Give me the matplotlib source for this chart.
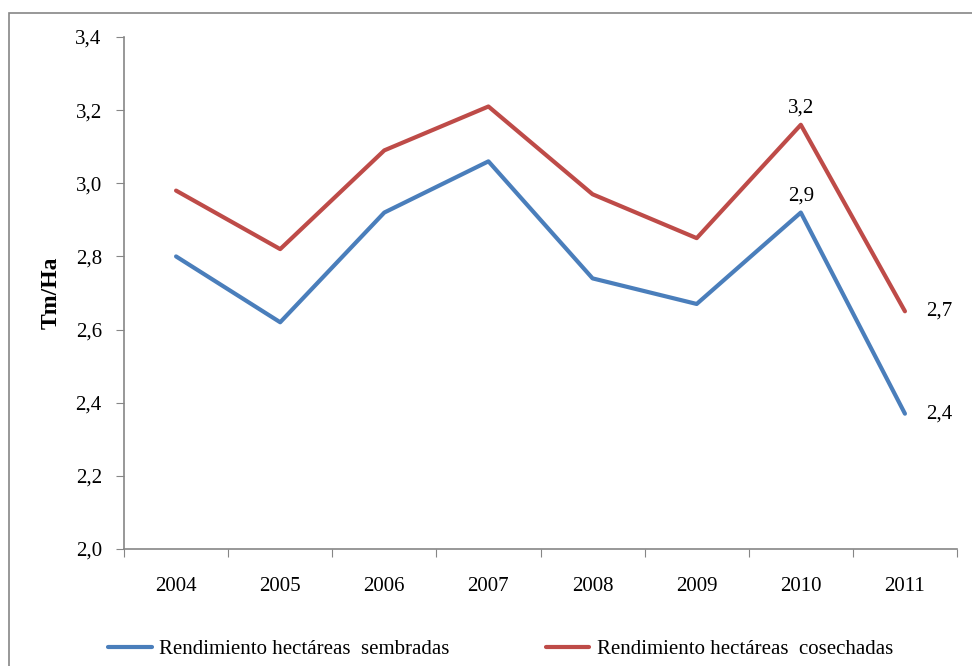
import numpy as np
import matplotlib.pyplot as plt
from matplotlib.patches import Rectangle

years = ["2004", "2005", "2006", "2007", "2008", "2009", "2010", "2011"]
sembradas = [2.80, 2.62, 2.92, 3.06, 2.74, 2.67, 2.92, 2.37]
cosechadas = [2.98, 2.82, 3.09, 3.21, 2.97, 2.85, 3.16, 2.65]
labels_sembradas = {6: "2,9", 7: "2,4"}
labels_cosechadas = {6: "3,2", 7: "2,7"}

blue = "#4a7ebb"
red = "#be4b48"
gray = "#868686"

plt.rcParams['font.family'] = ['Liberation Serif', 'DejaVu Serif']

fig = plt.figure(figsize=(9.72, 6.66), dpi=100)
ax = fig.add_axes([124 / 972, 1 - 549 / 666, (957 - 124) / 972, (549 - 37) / 666])

# outer chart frame (cut off on right and bottom)
fig.patches.append(Rectangle((9 / 972, -0.05), 1.2, 0.05 + 1 - 13 / 666,
                             transform=fig.transFigure, fill=False,
                             edgecolor=gray, linewidth=1.2))

x = np.arange(len(years)) + 0.5
ax.plot(x, sembradas, color=blue, linewidth=3, solid_capstyle="round",
        label="Rendimiento hectáreas  sembradas")
ax.plot(x, cosechadas, color=red, linewidth=3, solid_capstyle="round",
        label="Rendimiento hectáreas  cosechadas")

for i, t in labels_sembradas.items():
    if i == len(years) - 1:
        ax.annotate(t, (x[i], sembradas[i]), xytext=(15, 0), textcoords="offset points",
                    ha="left", va="center", fontsize=15)
    else:
        ax.annotate(t, (x[i], sembradas[i]), xytext=(0, 5), textcoords="offset points",
                    ha="center", va="bottom", fontsize=15)
for i, t in labels_cosechadas.items():
    if i == len(years) - 1:
        ax.annotate(t, (x[i], cosechadas[i]), xytext=(15, 0), textcoords="offset points",
                    ha="left", va="center", fontsize=15)
    else:
        ax.annotate(t, (x[i], cosechadas[i]), xytext=(0, 5), textcoords="offset points",
                    ha="center", va="bottom", fontsize=15)

ax.set_xlim(0, len(years))
ax.set_ylim(2.0, 3.4)
yt = np.arange(2.0, 3.41, 0.2)
ax.set_yticks(yt)
ax.set_yticklabels([f"{v:.1f}".replace(".", ",") for v in yt], fontsize=15)
ax.set_xticks(np.arange(len(years) + 1))
ax.set_xticklabels([])
ax.set_xticks(x, minor=True)
ax.set_xticklabels(years, minor=True, fontsize=15)
ax.tick_params(axis="x", which="minor", length=0, pad=20)
ax.tick_params(axis="x", which="major", length=6, color=gray, direction="out")
ax.tick_params(axis="y", length=6, color=gray, direction="out", pad=10)

for s in ["top", "right"]:
    ax.spines[s].set_visible(False)
for s in ["left", "bottom"]:
    ax.spines[s].set_color(gray)
    ax.spines[s].set_linewidth(1.2)

ax.set_ylabel("Tm/Ha", fontsize=17, fontweight="bold", labelpad=10)

fig.legend(loc="lower center", bbox_to_anchor=(0.515, -0.012), ncol=2, frameon=False,
           fontsize=15, handlelength=2.1, columnspacing=4.6, handletextpad=0.35,
           borderpad=0.2)

plt.savefig("out.png", dpi=100)
